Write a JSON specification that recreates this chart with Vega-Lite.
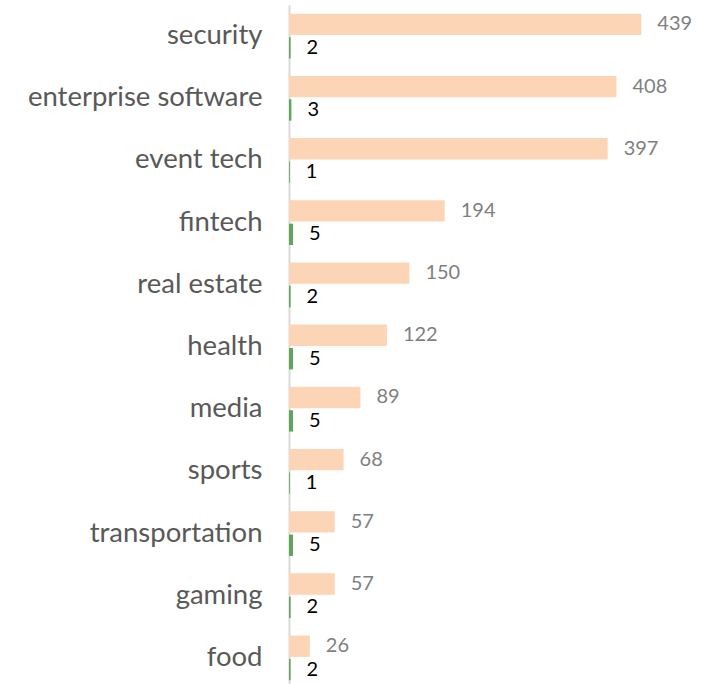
{
  "$schema": "https://vega.github.io/schema/vega-lite/v6.json",
  "width": 431,
  "height": 679,
  "autosize": "none",
  "padding": {"left": 289, "top": 5, "right": 0, "bottom": 0},
  "background": "white",
  "config": {"view": {"stroke": null}},
  "data": {
    "values": [
      {"category": "security", "series": "a", "value": 439},
      {"category": "security", "series": "b", "value": 2},
      {"category": "enterprise software", "series": "a", "value": 408},
      {"category": "enterprise software", "series": "b", "value": 3},
      {"category": "event tech", "series": "a", "value": 397},
      {"category": "event tech", "series": "b", "value": 1},
      {"category": "fintech", "series": "a", "value": 194},
      {"category": "fintech", "series": "b", "value": 5},
      {"category": "real estate", "series": "a", "value": 150},
      {"category": "real estate", "series": "b", "value": 2},
      {"category": "health", "series": "a", "value": 122},
      {"category": "health", "series": "b", "value": 5},
      {"category": "media", "series": "a", "value": 89},
      {"category": "media", "series": "b", "value": 5},
      {"category": "sports", "series": "a", "value": 68},
      {"category": "sports", "series": "b", "value": 1},
      {"category": "transportation", "series": "a", "value": 57},
      {"category": "transportation", "series": "b", "value": 5},
      {"category": "gaming", "series": "a", "value": 57},
      {"category": "gaming", "series": "b", "value": 2},
      {"category": "food", "series": "a", "value": 26},
      {"category": "food", "series": "b", "value": 2}
    ]
  },
  "encoding": {
    "y": {
      "field": "category",
      "type": "nominal",
      "sort": null,
      "scale": {"paddingInner": 0.28, "paddingOuter": 0.14, "range": [0, 684]},
      "axis": {
        "title": null,
        "ticks": false,
        "labelPadding": 27,
        "labelLimit": 0,
        "labelFont": "Lato",
        "labelFontSize": 27.5,
        "labelColor": "#595959",
        "domainColor": "#d9d9d9",
        "domainWidth": 2,
        "grid": false
      }
    },
    "yOffset": {
      "field": "series",
      "type": "nominal",
      "scale": {"paddingInner": 0.09}
    },
    "x": {
      "field": "value",
      "type": "quantitative",
      "scale": {"domain": [0, 537], "nice": false},
      "axis": null
    }
  },
  "layer": [
    {
      "mark": {"type": "bar"},
      "encoding": {
        "color": {
          "field": "series",
          "type": "nominal",
          "scale": {"domain": ["a", "b"], "range": ["#FBD5B5", "#5FA55A"]},
          "legend": null
        }
      }
    },
    {
      "mark": {"type": "text", "align": "left", "baseline": "middle", "dx": 16, "font": "Lato", "fontSize": 20},
      "encoding": {
        "text": {"field": "value", "type": "quantitative"},
        "color": {
          "condition": {"test": "datum.series === 'b'", "value": "#000000"},
          "value": "#7f7f7f"
        }
      }
    }
  ]
}
